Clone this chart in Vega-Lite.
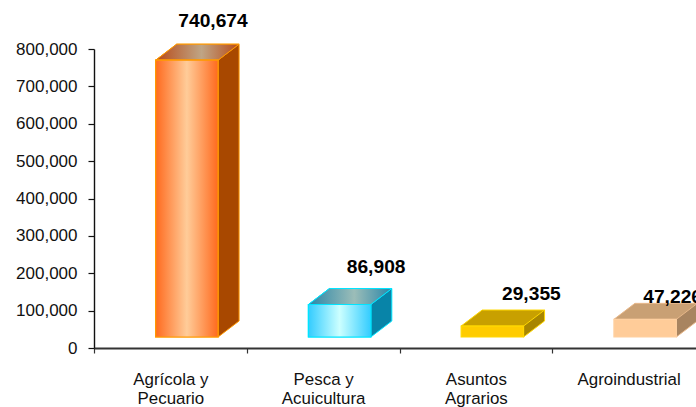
{
"$schema":"https://vega.github.io/schema/vega-lite/v6.json",
"width":602,"height":299,"autosize":{"type":"none"},
"padding":{"left":94,"top":49,"right":0,"bottom":59},
"background":"white","view":{"stroke":null},
"data":{"values":[
{"sector":"Agrícola y Pecuario","value":740674},
{"sector":"Pesca y Acuicultura","value":86908},
{"sector":"Asuntos Agrarios","value":29355},
{"sector":"Agroindustrial","value":47226}]},
"encoding":{
"x":{"field":"sector","type":"nominal","sort":null,"title":null,
"scale":{"domain":["Agrícola y Pecuario","Pesca y Acuicultura","Asuntos Agrarios","Agroindustrial"],"range":[0,611],"paddingInner":0,"paddingOuter":0},
"axis":{"tickBand":"extent","labelAngle":0,"labelExpr":"{'Agrícola y Pecuario':['Agrícola y','Pecuario'],'Pesca y Acuicultura':['Pesca y','Acuicultura'],'Asuntos Agrarios':['Asuntos','Agrarios']}[datum.label] || datum.label","labelFont":"Liberation Sans","labelFontSize":16.9,"labelColor":"#111","labelLineHeight":19,"labelPadding":18,"labelOverlap":false,"labelBound":false,"labelFlush":false,"domainColor":"#333","domainWidth":1.8,"tickColor":"#333","tickWidth":1.2,"tickSize":5,"grid":false}},
"y":{"field":"value","type":"quantitative","title":null,
"scale":{"domain":[0,800000],"nice":false},
"axis":{"values":[0,100000,200000,300000,400000,500000,600000,700000,800000],"labelExpr":"format(datum.value, ',')","labelFont":"Liberation Sans","labelFontSize":17,"labelColor":"#111","labelPadding":11,"domainColor":"#111","domainWidth":1.4,"tickColor":"#111","tickWidth":1.2,"tickSize":6,"grid":false}}
},
"resolve":{"scale":{"fill":"independent","stroke":"independent"}},
"layer":[
{"mark":{"type":"bar","width":21,"xOffset":58.2,"yOffset":-27,"y2Offset":-11},
 "encoding":{"y2":{"datum":0},"fill":{"field":"sector","type":"nominal","legend":null,"sort":null,"scale":{"domain":["Agrícola y Pecuario","Pesca y Acuicultura","Asuntos Agrarios","Agroindustrial"],"range":["#A84800","#0884A8","#A88600","#A88460"]}}}},
{"mark":{"type":"point","shape":"M31.2 0 L52.2 -16 L54 -16 L54 2 L31.2 2 Z","size":4,"filled":true,"opacity":1,"fill":"white","stroke":null,"xOffset":16.5,"yOffset":-11},
 "encoding":{"y":{"datum":0,"type":"quantitative","title":null}}},
{"mark":{"type":"point","shape":"M31.2 0 L52.2 -16","size":4,"filled":false,"opacity":1,"strokeWidth":1,"xOffset":16.5,"yOffset":-11},
 "encoding":{"y":{"datum":0,"type":"quantitative","title":null},"stroke":{"field":"sector","type":"nominal","legend":null,"sort":null,"scale":{"domain":["Agrícola y Pecuario","Pesca y Acuicultura","Asuntos Agrarios","Agroindustrial"],"range":["#FF9900","#00E5FF","#FFD700","#E8B88A"]}}}},
{"mark":{"type":"rule","strokeWidth":1,"xOffset":68.7,"yOffset":-27,"y2Offset":-27},
 "encoding":{"y2":{"datum":0},"stroke":{"field":"sector","type":"nominal","legend":null,"sort":null,"scale":{"domain":["Agrícola y Pecuario","Pesca y Acuicultura","Asuntos Agrarios","Agroindustrial"],"range":["#FF9900","#00E5FF","#FFD700","#E8B88A"]}}}},
{"mark":{"type":"point","shape":"M-31.2 0 L31.2 0 L52.2 -16 L-10.2 -16 Z","size":4,"filled":true,"opacity":1,"strokeWidth":1,"xOffset":16.5,"yOffset":-11},
 "encoding":{"fill":{"field":"sector","type":"nominal","legend":null,"sort":null,"scale":{"domain":["Agrícola y Pecuario","Pesca y Acuicultura","Asuntos Agrarios","Agroindustrial"],"range":["#C06030","#4A90A8","#C8A000","#C9A074"]}},
 "stroke":{"field":"sector","type":"nominal","legend":null,"sort":null,"scale":{"domain":["Agrícola y Pecuario","Pesca y Acuicultura","Asuntos Agrarios","Agroindustrial"],"range":["#FF9900","#00E5FF","#FFD700","#E8B88A"]}}}},
{"transform":[{"filter":"datum.sector == 'Agrícola y Pecuario'"}],
 "mark":{"type":"point","shape":"M-31.2 0 L31.2 0 L52.2 -16 L-10.2 -16 Z","size":4,"filled":true,"opacity":1,"stroke":"#FF9900","strokeWidth":1,"xOffset":16.5,"yOffset":-11,
 "fill":{"gradient":"linear","x1":0,"y1":0.5,"x2":1,"y2":0.5,"stops":[{"offset":0,"color":"#B84A18"},{"offset":0.55,"color":"#BFA585"},{"offset":1,"color":"#B84A18"}]}}},
{"transform":[{"filter":"datum.sector == 'Pesca y Acuicultura'"}],
 "mark":{"type":"point","shape":"M-31.2 0 L31.2 0 L52.2 -16 L-10.2 -16 Z","size":4,"filled":true,"opacity":1,"stroke":"#00E5FF","strokeWidth":1,"xOffset":16.5,"yOffset":-11,
 "fill":{"gradient":"linear","x1":0,"y1":0.5,"x2":1,"y2":0.5,"stops":[{"offset":0,"color":"#2A86A8"},{"offset":0.55,"color":"#9CBDB8"},{"offset":1,"color":"#2A86A8"}]}}},
{"mark":{"type":"bar","width":62.4,"xOffset":16.5,"yOffset":-11,"y2Offset":-11,"strokeWidth":1.2},
 "encoding":{"y2":{"datum":0},"fill":{"field":"sector","type":"nominal","legend":null,"sort":null,"scale":{"domain":["Agrícola y Pecuario","Pesca y Acuicultura","Asuntos Agrarios","Agroindustrial"],"range":["#FF9966","#66DDFF","#FFCC00","#FFCC99"]}},
 "stroke":{"field":"sector","type":"nominal","legend":null,"sort":null,"scale":{"domain":["Agrícola y Pecuario","Pesca y Acuicultura","Asuntos Agrarios","Agroindustrial"],"range":["#FF9900","#00E5FF","#FFD700","#FFD0A0"]}}}},
{"transform":[{"filter":"datum.sector == 'Agrícola y Pecuario'"}],
 "mark":{"type":"bar","width":62.4,"xOffset":16.5,"yOffset":-11,"y2Offset":-11,"stroke":"#FF9900","strokeWidth":1.2,
 "fill":{"gradient":"linear","x1":0,"y1":0,"x2":1,"y2":0,"stops":[{"offset":0,"color":"#FF6A1E"},{"offset":0.5,"color":"#FFCC99"},{"offset":1,"color":"#FF6A1E"}]}},
 "encoding":{"y2":{"datum":0}}},
{"transform":[{"filter":"datum.sector == 'Pesca y Acuicultura'"}],
 "mark":{"type":"bar","width":62.4,"xOffset":16.5,"yOffset":-11,"y2Offset":-11,"stroke":"#00E5FF","strokeWidth":1.2,
 "fill":{"gradient":"linear","x1":0,"y1":0,"x2":1,"y2":0,"stops":[{"offset":0,"color":"#33CCFF"},{"offset":0.5,"color":"#CCFFFF"},{"offset":1,"color":"#33CCFF"}]}},
 "encoding":{"y2":{"datum":0}}},
{"transform":[{"filter":"datum.sector == 'Agrícola y Pecuario'"}],
 "mark":{"type":"text","font":"Liberation Sans","fontWeight":"bold","fontSize":19.2,"color":"#000","xOffset":42.6,"yOffset":-50},
 "encoding":{"text":{"field":"value","type":"quantitative","format":","}}},
{"transform":[{"filter":"datum.sector == 'Pesca y Acuicultura'"}],
 "mark":{"type":"text","font":"Liberation Sans","fontWeight":"bold","fontSize":19.2,"color":"#000","xOffset":53,"yOffset":-48.5},
 "encoding":{"text":{"field":"value","type":"quantitative","format":","}}},
{"transform":[{"filter":"datum.sector == 'Asuntos Agrarios'"}],
 "mark":{"type":"text","font":"Liberation Sans","fontWeight":"bold","fontSize":19.2,"color":"#000","xOffset":55.5,"yOffset":-43},
 "encoding":{"text":{"field":"value","type":"quantitative","format":","}}},
{"transform":[{"filter":"datum.sector == 'Agroindustrial'"}],
 "mark":{"type":"text","font":"Liberation Sans","fontWeight":"bold","fontSize":19.2,"color":"#000","xOffset":44,"yOffset":-33},
 "encoding":{"text":{"field":"value","type":"quantitative","format":","}}}
]
}
